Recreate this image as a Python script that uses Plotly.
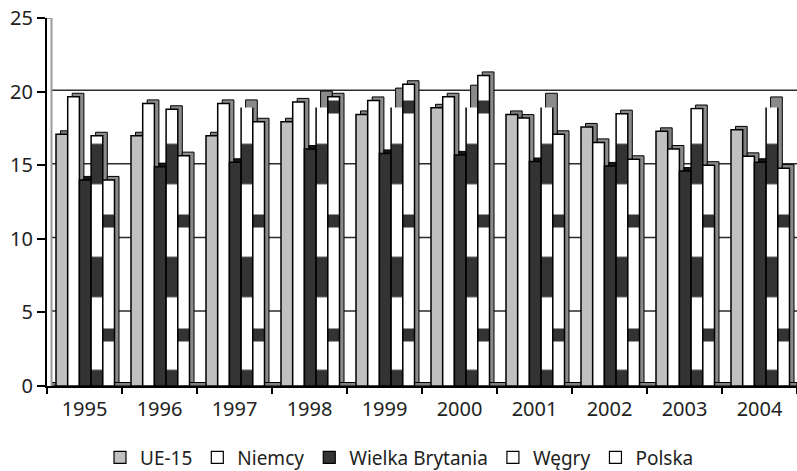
import plotly.graph_objects as go

# Categories (years) and series values
years = ["1995", "1996", "1997", "1998", "1999", "2000", "2001", "2002", "2003", "2004"]
ue15 = [17.1, 17.0, 17.0, 17.95, 18.45, 18.9, 18.45, 17.6, 17.3, 17.4]
niemcy = [19.65, 19.2, 19.2, 19.3, 19.4, 19.65, 18.2, 16.55, 16.1, 15.6]
wielka_brytania = [14.0, 14.9, 15.2, 16.1, 15.8, 15.7, 15.25, 14.95, 14.6, 15.2]
wegry = [17.0, 18.8, 19.2, 19.8, 20.0, 20.2, 19.65, 18.5, 18.85, 19.4]
polska = [14.0, 15.65, 17.95, 19.65, 20.5, 21.1, 17.1, 15.4, 15.0, 14.8]

y_ticks = [0, 5, 10, 15, 20, 25]

# Figure geometry (pixels)
FIG_W, FIG_H = 797, 471
M_L, M_R, M_T, M_B = 47, 0, 18, 85
PLOT_W = FIG_W - M_L - M_R
PLOT_H = FIG_H - M_T - M_B
Y_MAX = 25
PX_PER_UNIT = PLOT_H / Y_MAX
PX_PER_CAT = PLOT_W / len(years)
BOTTOM_PX = M_T + PLOT_H

BAR_W = 11.7 / PX_PER_CAT          # front face width (category units)
START = -28.5 / PX_PER_CAT         # left edge of the first bar in a group
DX = 4.5 / PX_PER_CAT              # depth offset to the right
DY = 3.5 / PX_PER_UNIT             # depth offset upwards
WALL_X = 4.5 / PLOT_W              # back wall left edge (paper units)

series = [
    # name, values, front colour, side colour, band pattern
    ("UE-15", ue15, "#c0c0c0", "#7f7f7f", None),
    ("Niemcy", niemcy, "#ffffff", "#8a8a8a", None),
    ("Wielka Brytania", wielka_brytania, "#333333", "#161616", None),
    ("Węgry", wegry, "#ffffff", "#8a8a8a", dict(size=113, solidity=0.36, top=107.5)),
    ("Polska", polska, "#ffffff", "#8a8a8a", dict(size=114, solidity=0.114, top=50)),
]

fig = go.Figure()

# Side/top faces of the 3-D columns, drawn first so that the front faces cover them
for i, (name, vals, front, side, band) in enumerate(series):
    fig.add_trace(go.Bar(
        x=years, y=vals, base=DY,
        offset=START + i * BAR_W + DX, width=BAR_W,
        marker=dict(color=side, line=dict(color="black", width=1)),
        showlegend=False, hoverinfo="skip",
    ))

# Front faces
sub = 2
layout_axes = {}
for i, (name, vals, front, side, band) in enumerate(series):
    kw = dict(
        x=years, y=vals, name=name,
        offset=START + i * BAR_W, width=BAR_W,
        showlegend=False, hoverinfo="x+y+name",
    )
    marker = dict(color=front, line=dict(color="black", width=1.5))
    if band is not None:
        marker["pattern"] = dict(
            shape="-", size=band["size"], solidity=band["solidity"],
            fgcolor="#333333", bgcolor="#ffffff", fgopacity=1, fillmode="replace",
        )
        # Banded series sit on their own subplot; same pixel scale, own pattern origin
        dom_top = (BOTTOM_PX - band["top"]) / PLOT_H
        rng_top = (BOTTOM_PX - band["top"]) / PX_PER_UNIT
        kw["xaxis"] = f"x{sub}"
        kw["yaxis"] = f"y{sub}"
        kw["cliponaxis"] = False
        layout_axes[f"xaxis{sub}"] = dict(
            type="category", range=[-0.5, len(years) - 0.5], anchor=f"y{sub}",
            visible=False, domain=[0, 1],
        )
        layout_axes[f"yaxis{sub}"] = dict(
            range=[0, rng_top], domain=[0, dom_top], anchor=f"x{sub}", visible=False,
        )
        sub += 1
    kw["marker"] = marker
    fig.add_trace(go.Bar(**kw))

# Plain legend entries
for name, vals, front, side, band in series:
    fig.add_trace(go.Bar(
        x=[None], y=[None], name=name,
        marker=dict(color=front, line=dict(color="black", width=1.2)),
        showlegend=True,
    ))

shapes = []
# floor of the 3-D plot area
shapes.append(dict(type="rect", xref="paper", yref="y", x0=WALL_X, x1=1, y0=0, y1=DY,
                   fillcolor="#808080", line=dict(color="black", width=1), layer="below"))
# gridlines on the back wall
for v in y_ticks[1:-1]:
    shapes.append(dict(type="line", xref="paper", yref="y", x0=WALL_X, x1=1,
                       y0=v + DY * 0.4, y1=v + DY * 0.4,
                       line=dict(color="#2b2b2b", width=1.5), layer="below"))
# left edge of the back wall
shapes.append(dict(type="line", xref="paper", yref="y", x0=WALL_X, x1=WALL_X, y0=0, y1=Y_MAX,
                   line=dict(color="#9a9a9a", width=2), layer="below"))
shapes.append(dict(type="line", xref="paper", yref="y", x0=0, x1=WALL_X, y0=Y_MAX, y1=Y_MAX,
                   line=dict(color="#9a9a9a", width=2), layer="below"))

fig.update_layout(
    width=FIG_W, height=FIG_H,
    margin=dict(l=M_L, r=M_R, t=M_T, b=M_B, autoexpand=False),
    barmode="overlay",
    plot_bgcolor="rgba(0,0,0,0)", paper_bgcolor="white",
    font=dict(family="Noto Sans", size=20, color="#222222"),
    legend=dict(orientation="h", x=(399.5 - M_L) / PLOT_W, xanchor="center",
                y=-(457.5 - BOTTOM_PX) / PLOT_H, yanchor="middle",
                font=dict(size=19), itemwidth=30, tracegroupgap=0,
                bgcolor="rgba(0,0,0,0)", borderwidth=0),
    xaxis=dict(type="category", range=[-0.5, len(years) - 0.5],
               showline=True, linecolor="black", linewidth=2,
               ticks="outside", ticklen=6, tickwidth=1.5, tickcolor="black",
               tickson="boundaries", showgrid=False, zeroline=False, tickangle=0,
               ticklabelstandoff=4),
    yaxis=dict(range=[0, Y_MAX], tickvals=y_ticks,
               showline=True, linecolor="black", linewidth=2,
               ticks="outside", ticklen=8, tickwidth=1.5, tickcolor="black",
               showgrid=False, zeroline=False),
    shapes=shapes,
    **layout_axes,
)

fig.write_html("out.html")
